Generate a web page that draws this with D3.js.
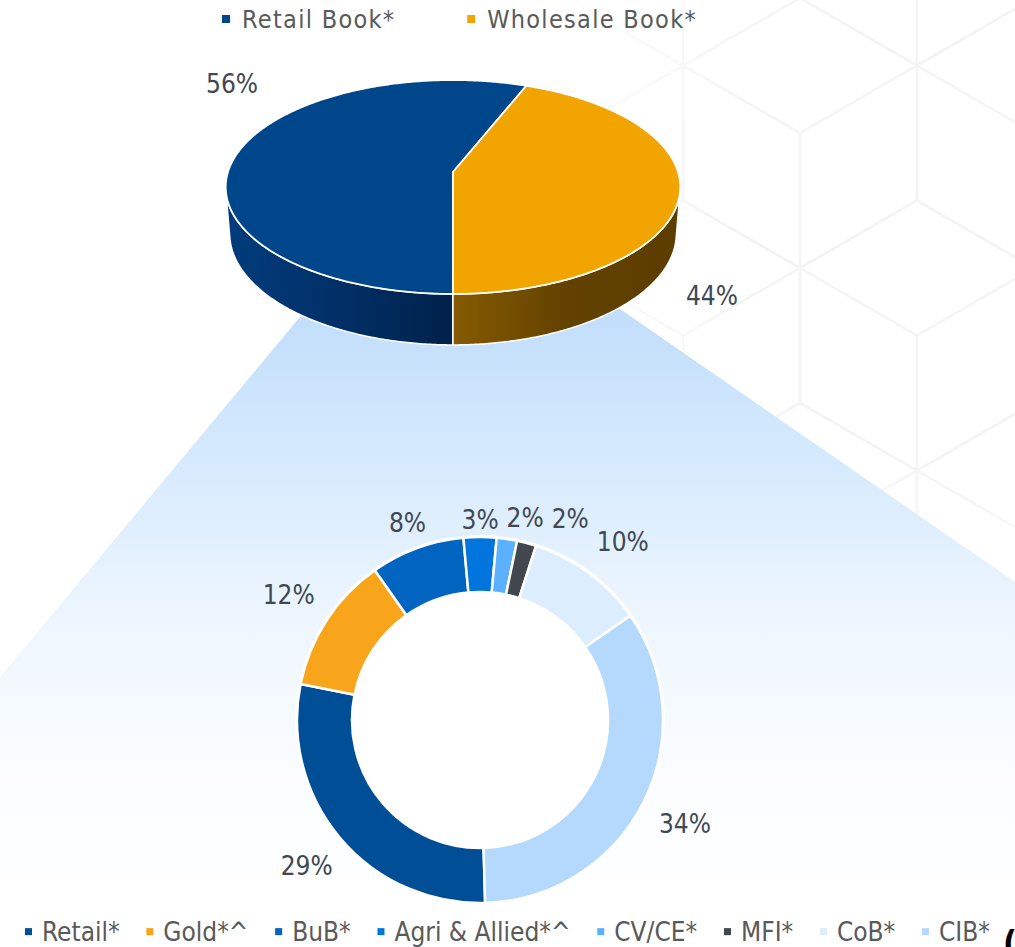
<!DOCTYPE html>
<html lang="en">
<head>
<meta charset="utf-8">
<title>Loan book mix</title>
<script src="https://d3js.org/d3.v7.min.js"></script>
<style>
  body { margin: 0; background: #fff; }
  text { font-family: "DejaVu Sans Condensed", "DejaVu Sans", sans-serif; }
</style>
</head>
<body>
<script>
// data
var bookNames = ["Retail Book*", "Wholesale Book*"];
var bookValues = [56, 44];
var bookColors = ["#00468b", "#f2a400"];

var segNames = ["Retail*", "Gold*^", "BuB*", "Agri & Allied*^", "CV/CE*", "MFI*", "CoB*", "CIB*"];
var segValues = [28.6, 12.1, 8.3, 2.9, 1.8, 1.7, 10.4, 34.2];
var segColors = ["#004e96", "#f8a51c", "#0064c0", "#0075dd", "#5bb1fe", "#41474d", "#dcedfd", "#b4d9fd"];

var w = 1015, h = 947;
var svg = d3.select("body").append("svg").attr("width", w).attr("height", h);
var defs = svg.append("defs");

// faint cube pattern in the background
var hexMask = defs.append("radialGradient").attr("id", "hexFade")
  .attr("gradientUnits", "userSpaceOnUse").attr("cx", 960).attr("cy", 220).attr("r", 480);
hexMask.append("stop").attr("offset", 0).attr("stop-color", "#fff");
hexMask.append("stop").attr("offset", 0.5).attr("stop-color", "#fff");
hexMask.append("stop").attr("offset", 1).attr("stop-color", "#000");
defs.append("mask").attr("id", "hexMask").append("rect")
  .attr("width", w).attr("height", h).attr("fill", "url(#hexFade)");

var hexS = 135, hexW = hexS * Math.sqrt(3) / 2;
var hexG = svg.append("g").attr("mask", "url(#hexMask)").attr("opacity", 0.55)
  .attr("fill", "none").attr("stroke", "#ececec").attr("stroke-width", 2.5);
for (var j = -1; j < 6; j++) {
  for (var k = -3; k < 3; k++) {
    var hx = 800 + k * 2 * hexW + (Math.abs(j) % 2) * hexW, hy = 133 + j * 1.5 * hexS;
    var pts = d3.range(6).map(function(q) {
      var an = Math.PI / 6 + q * Math.PI / 3;
      return [hx + hexS * Math.cos(an), hy + hexS * Math.sin(an)];
    });
    hexG.append("path").attr("d", "M" + pts.join("L") + "Z");
    hexG.append("path").attr("d", "M" + [hx, hy] + "L" + pts[1] + "M" + [hx, hy] + "L" + pts[3] + "M" + [hx, hy] + "L" + pts[5]);
  }
}

// blue zoom fan from the pie to the doughnut
var fanGrad = defs.append("linearGradient").attr("id", "fanGrad")
  .attr("gradientUnits", "userSpaceOnUse").attr("x1", 0).attr("y1", 315).attr("x2", 0).attr("y2", 900);
[[0, "#c2defb"], [0.25, "#d6eafd"], [0.5, "#ecf5fe"], [0.75, "#f9fcff"], [1, "#ffffff"]].forEach(function(s) {
  fanGrad.append("stop").attr("offset", s[0]).attr("stop-color", s[1]);
});
svg.append("path")
  .attr("d", "M300,317L620,309L1015,582L1015,947L0,947L0,677Z")
  .attr("fill", "url(#fanGrad)");

// 3D pie, drawn with a small perspective camera
var cam = { cx: 453, cy: 172, f: 1420, L: 6.31, s: 0.466, c: 0.885, depth: 0.235 };
function proj(t, r, y) {
  var x = r * Math.sin(t), z = -r * Math.cos(t);
  var d = cam.L - (y * cam.s + z * cam.c);
  return [cam.cx + cam.f * x / d, cam.cy - cam.f * (y * cam.c - z * cam.s) / d];
}
function rim(a0, a1, y) {
  var n = Math.max(2, Math.ceil(Math.abs(a1 - a0) / 0.01));
  return d3.range(n + 1).map(function(i) { return proj(a0 + (a1 - a0) * i / n, 1, y); });
}

var pie1 = d3.pie().sort(null).startAngle(Math.PI).endAngle(3 * Math.PI);
var slices1 = pie1(bookValues);

var wallGrads = [["#023c7c", "#012f66", "#00214b"], ["#855a00", "#634200", "#5c3d00"]];
var wallX = [[228, 453], [453, 680]];
wallGrads.forEach(function(g, i) {
  var lg = defs.append("linearGradient").attr("id", "wall" + i)
    .attr("gradientUnits", "userSpaceOnUse")
    .attr("x1", wallX[i][0]).attr("x2", wallX[i][1]).attr("y1", 0).attr("y2", 0);
  lg.append("stop").attr("offset", 0).attr("stop-color", g[0]);
  lg.append("stop").attr("offset", 0.5).attr("stop-color", g[1]);
  lg.append("stop").attr("offset", 1).attr("stop-color", g[2]);
});

var vis0 = Math.acos(-1 / (cam.L * cam.c)), vis1 = 2 * Math.PI - vis0;
var pieG = svg.append("g");
slices1.forEach(function(sl, i) {
  for (var k = -1; k <= 2; k++) {
    var a = Math.max(sl.startAngle, vis0 + 2 * Math.PI * k);
    var b = Math.min(sl.endAngle, vis1 + 2 * Math.PI * k);
    if (b > a) {
      var top = rim(a, b, 0), bot = rim(b, a, -cam.depth);
      pieG.append("path").attr("d", "M" + top.concat(bot).join("L") + "Z")
        .attr("fill", "url(#wall" + i + ")").attr("stroke", "#fff").attr("stroke-width", 1.5)
        .attr("stroke-linejoin", "round");
    }
  }
});
slices1.forEach(function(sl, i) {
  var pts = [proj(0, 0, 0)].concat(rim(sl.startAngle, sl.endAngle, 0));
  pieG.append("path").attr("d", "M" + pts.join("L") + "Z")
    .attr("fill", bookColors[i]).attr("stroke", "#fff").attr("stroke-width", 1.8)
    .attr("stroke-linejoin", "round");
});
pieG.selectAll("text").data(slices1).join("text")
  .attr("x", function(d) { var a = (d.startAngle + d.endAngle) / 2 + 0.096; return cam.cx + 19 + 250 * Math.sin(a); })
  .attr("y", function(d) { var a = (d.startAngle + d.endAngle) / 2 + 0.096; return 190 - 378 * Math.cos(a); })
  .attr("dy", "0.36em").attr("text-anchor", "middle")
  .attr("font-size", 26).attr("fill", "#404853")
  .text(function(d) { return d.data + "%"; });

// doughnut
var Ro = 183, Ri = 128;
var pie2 = d3.pie().sort(null).startAngle(Math.PI - 0.028).endAngle(3 * Math.PI - 0.028);
var slices2 = pie2(segValues);
var arc2 = d3.arc().innerRadius(Ri).outerRadius(Ro);
var dg = svg.append("g").attr("transform", "translate(480,720)");
dg.append("circle").attr("r", Ro + 2).attr("fill", "#fff");
dg.selectAll("path").data(slices2).join("path")
  .attr("d", arc2)
  .attr("fill", function(d, i) { return segColors[i]; })
  .attr("stroke", "#fff").attr("stroke-width", 2.5).attr("stroke-linejoin", "round");

var labH = 22, boxes = [];
dg.selectAll("text").data(slices2).join("text")
  .attr("text-anchor", "middle").attr("dy", "0.36em")
  .attr("font-size", 26).attr("fill", "#404853")
  .text(function(d) { return Math.round(d.data) + "%"; })
  .each(function(d, i) {
    var tw = this.getComputedTextLength();
    var a = (d.startAngle + d.endAngle) / 2, sa = Math.sin(a), ca = Math.cos(a);
    var rl = Ro + 6 + (tw / 2 + 14) * Math.abs(sa) + labH / 2 * Math.abs(ca);
    var b = { x: rl * sa, y: -rl * ca, w: tw, up: ca > 0 };
    var p = boxes[i - 1];
    if (p && b.up && Math.abs(b.x - p.x) < (b.w + p.w) / 2 + 8 && Math.abs(b.y - p.y) < labH + 4) {
      b.x = p.x + (b.w + p.w) / 2 + 8;
    }
    boxes.push(b);
    d3.select(this).attr("x", b.x).attr("y", b.y);
  });

// legends
function legend(names, colors, y, size, font, spacing, mark, gapIn, x0, x1) {
  var g = svg.append("g");
  var items = names.map(function(n, i) {
    var t = g.append("text").attr("y", y).attr("font-size", size)
      .attr("font-family", font).attr("letter-spacing", spacing).attr("fill", "#595959").text(n);
    var r = g.append("rect").attr("width", mark).attr("height", mark).attr("fill", colors[i]);
    return { t: t, r: r, w: mark + gapIn + t.node().getComputedTextLength() };
  });
  var total = d3.sum(items, function(d) { return d.w; });
  var gap = (x1 - x0 - total) / (items.length - 1);
  var x = x0;
  items.forEach(function(d) {
    d.r.attr("x", x).attr("y", y - size * 0.36 - mark / 2);
    d.t.attr("x", x + mark + gapIn);
    x += d.w + gap;
  });
}
legend(bookNames, bookColors, 28, 25, "DejaVu Sans", 1.3, 8, 12, 222, 697);
legend(segNames, segColors, 941, 26, "DejaVu Sans Condensed", 0, 7, 10, 25, 990);

svg.append("text").attr("x", 1003).attr("y", 955).attr("font-size", 34)
  .attr("font-weight", "bold").attr("fill", "#000").text("(");
</script>
</body>
</html>
